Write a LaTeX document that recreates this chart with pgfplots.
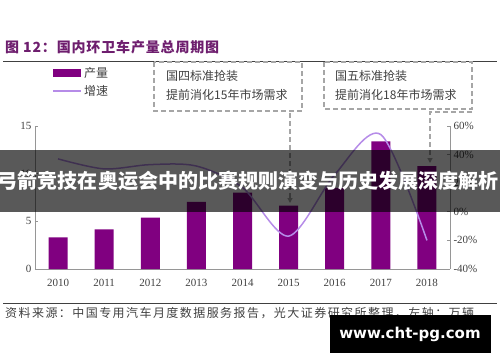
\documentclass[border=0pt]{standalone}
\usepackage{fontspec}
\setmainfont{Liberation Serif}
\newfontfamily\cjk{Noto Sans CJK SC}
\newfontfamily\cjkls[LetterSpace=12]{Noto Sans CJK SC}
\newfontfamily\cjkt[LetterSpace=6]{Noto Sans CJK SC}
\newfontfamily\wm{DejaVu Sans}
\usepackage{pgfplots}
\pgfplotsset{compat=1.18}
\usetikzlibrary{arrows.meta}
\definecolor{barpurple}{RGB}{128,0,128}
\definecolor{linepurple}{RGB}{182,140,232}
\definecolor{titlepurple}{RGB}{110,30,110}
\definecolor{dashgray}{RGB}{166,166,166}
\definecolor{txt}{RGB}{64,64,64}
\definecolor{axgray}{RGB}{150,150,150}

\begin{document}
\begin{tikzpicture}[x=1pt,y=1pt]
\useasboundingbox (0,0) rectangle (500,362);
% title and rules
\node[anchor=west, font=\cjkt\bfseries\fontsize{14}{14}\selectfont, text=titlepurple, inner sep=0] at (5,315) {图 12：国内环卫车产量总周期图};
\draw[txt, line width=0.8pt] (3,301) -- (497,301);
\draw[txt, line width=0.8pt] (3,59) -- (497,59);
\node[anchor=west, font=\cjkls\fontsize{12}{12}\selectfont, text=txt, inner sep=0] at (5,49) {资料来源：中国专用汽车月度数据服务报告，光大证券研究所整理，左轴：万辆};
% legend
\fill[barpurple] (53,285) rectangle (81,293);
\node[anchor=west, font=\cjk\fontsize{12}{12}\selectfont, text=txt, inner sep=0] at (84,289) {产量};
\draw[linepurple, line width=1.2pt] (53,271) -- (81,271);
\node[anchor=west, font=\cjk\fontsize{12}{12}\selectfont, text=txt, inner sep=0] at (84,271) {增速};
% annotation boxes
\draw[dashgray, line width=1.2pt, dash pattern=on 5pt off 3pt] (154,300) rectangle (302,251);
\node[anchor=west, font=\cjk\fontsize{12}{12}\selectfont, text=txt, inner sep=0] at (166,286) {国四标准抢装};
\node[anchor=west, font=\cjk\fontsize{12}{12}\selectfont, text=txt, inner sep=0] at (166,267) {提前消化15年市场需求};
\draw[dashgray, line width=1.2pt, dash pattern=on 5pt off 3pt] (324,300) rectangle (472,253);
\node[anchor=west, font=\cjk\fontsize{12}{12}\selectfont, text=txt, inner sep=0] at (335,286) {国五标准抢装};
\node[anchor=west, font=\cjk\fontsize{12}{12}\selectfont, text=txt, inner sep=0] at (335,267) {提前消化18年市场需求};

\begin{axis}[at={(35pt,93pt)}, anchor=south west, scale only axis,
  width=415pt, height=143pt,
  xmin=-0.5, xmax=8.5, ymin=0, ymax=15,
  axis x line*=bottom, axis y line*=left,
  axis line style={draw=axgray, line width=0.6pt},
  xtick={0,...,8}, xticklabels={2010,2011,2012,2013,2014,2015,2016,2017,2018},
  xtick style={draw=none},
  xticklabel style={yshift=-4pt},
  ytick={0,5,10,15}, tick align=inside, major tick length=3pt,
  ytick style={draw=axgray, line width=0.6pt},
  tick label style={font=\fontsize{11}{11}\selectfont, text=txt},
  /pgf/number format/assume math mode=true,
  ybar, bar width=19pt]
\addplot[fill=barpurple, draw=none] coordinates {(0,3.33) (1,4.16) (2,5.38) (3,7.03) (4,8.0) (5,6.64) (6,8.5) (7,13.4) (8,10.8)};
\end{axis}
\begin{axis}[at={(35pt,93pt)}, anchor=south west, scale only axis,
  width=415pt, height=143pt,
  xmin=-0.5, xmax=8.5, ymin=-40, ymax=60,
  axis x line=none, axis y line*=right,
  axis line style={draw=axgray, line width=0.6pt},
  ytick={-40,-20,0,20,40,60}, tick align=inside, major tick length=3pt,
  ytick style={draw=axgray, line width=0.6pt},
  yticklabel={\pgfmathprintnumber{\tick}\%},
  tick label style={font=\fontsize{11}{11}\selectfont, text=txt},
  /pgf/number format/assume math mode=true]
\addplot[linepurple, line width=1.5pt, smooth] coordinates {(0,37) (1,30) (2,33) (3,32) (4,17) (5,-17) (6,26) (7,54) (8,-20)};
\end{axis}
% arrows
\draw[dashgray, line width=1.2pt, dash pattern=on 5pt off 3pt, -{Triangle[width=5pt,length=5pt]}] (290,249) -- (290,159);
\draw[dashgray, line width=1.2pt, dash pattern=on 5pt off 3pt, -{Triangle[width=5pt,length=5pt]}] (472,250) -- (430,250) -- (430,199);
% overlay band
\fill[black, opacity=0.65] (0,150) rectangle (500,212);
\node[font=\cjk\bfseries\fontsize{20}{20}\selectfont, text=white, inner sep=0] at (248,181) {弓箭竞技在奥运会中的比赛规则演变与历史发展深度解析};
% watermark box
\fill[black] (330,9) rectangle (491,47);
\node[font=\wm\bfseries\fontsize{15}{15}\selectfont, text=white, inner sep=0] at (410,28) {www.cht-pg.com};
\end{tikzpicture}
\end{document}
